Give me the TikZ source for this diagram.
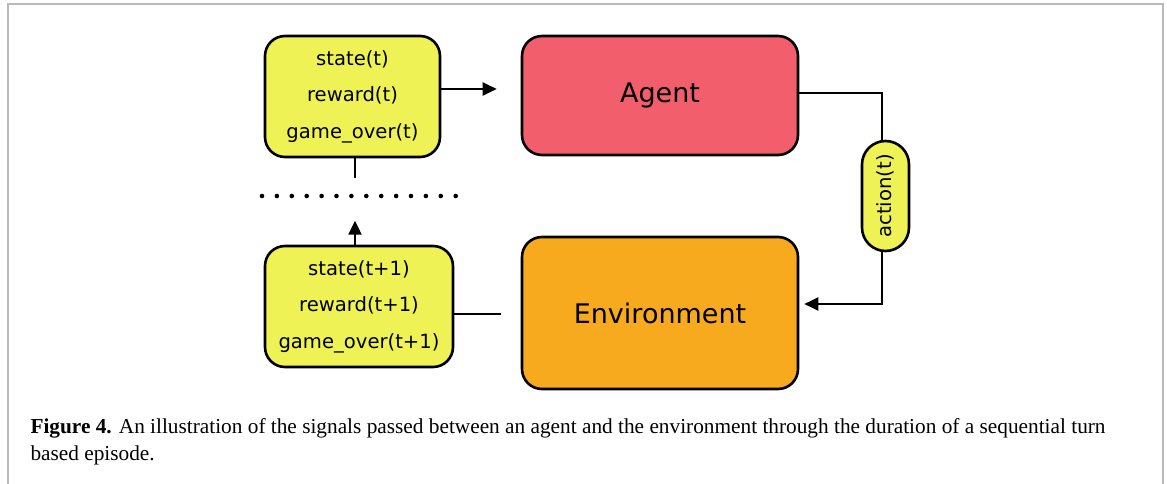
\documentclass[tikz,border=0pt]{standalone}
\usepackage{fontspec}
\setmainfont{Liberation Serif}
\newfontfamily\diagfont{DejaVu Sans}
\usetikzlibrary{arrows.meta,positioning}

\definecolor{sigyellow}{RGB}{238,242,85}
\definecolor{agentred}{RGB}{243,94,108}
\definecolor{envorange}{RGB}{248,170,30}

\begin{document}
\begin{tikzpicture}[x=1pt,y=-1pt,
    box/.style={draw, line width=2.6pt, rounded corners=20pt, align=center},
    sigbox/.style={box, fill=sigyellow, font=\diagfont\fontsize{19.6}{36.5}\selectfont},
    bigbox/.style={box, fill=agentred, minimum width=276pt, font=\diagfont\fontsize{27}{32}\selectfont},
    link/.style={line width=2.2pt},
    arr/.style={link, -{Triangle[length=14pt,width=13pt]}}]
    \useasboundingbox (0,0) rectangle (1167,484);
    \draw[line width=2pt, gray!55] (8,484) |- (1163,4) -- (1163,484);
    % signals, agent and environment
    \node[sigbox, minimum width=175pt, minimum height=121pt] (obs) at (352.5,96.5)
        {state(t)\\reward(t)\\game\_over(t)};
    \node[bigbox, minimum height=119pt] (agent) at (660,95.5) {Agent};
    \node[bigbox, fill=envorange, minimum height=152pt] (env) at (660,313) {Environment};
    \node[sigbox, minimum width=188pt, minimum height=121pt] (nextobs) at (359,306.5)
        {state(t+1)\\reward(t+1)\\game\_over(t+1)};
    \node[sigbox, minimum width=47pt, minimum height=110pt, rounded corners=23.5pt,
        inner sep=0pt] (act) at (885.5,196) {\rotatebox{90}{action(t)}};
    % connectors
    \draw[arr] ([yshift=7.5pt]obs.east) -- ([xshift=-24pt,yshift=6.5pt]agent.west);
    \draw[link] ([yshift=2.5pt]agent.east) -| ([xshift=-3.5pt]act.north);
    \draw[arr] ([xshift=-3.5pt]act.south) |- ([xshift=5pt,yshift=9pt]env.east);
    \coordinate (gap) at (355,178);
    \draw[link] (obs.south -| gap) -- (gap);
    \draw[arr] ([xshift=-4pt]nextobs.north) -- ++(0,-24);
    \draw[link] ([yshift=-7.5pt]nextobs.east) -- ([xshift=-20pt,yshift=-1pt]env.west);
    \foreach \i in {0,...,13}
        \fill (262+\i*14.9,196) circle (2.3pt);
    % caption
    \node[anchor=north west, align=left, font=\fontsize{21.3}{27}\selectfont] (cap) at (27,415)
        {\textbf{Figure 4.} An illustration of the signals passed between an agent and the environment through the duration of a sequential turn\\based episode.};
\end{tikzpicture}
\end{document}
